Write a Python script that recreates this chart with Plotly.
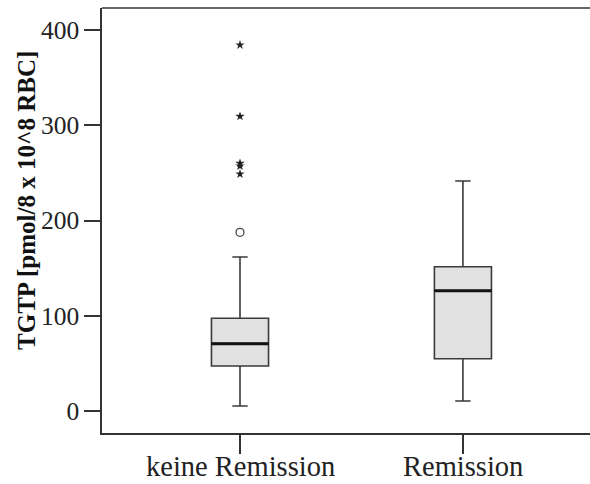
import plotly.graph_objects as go

# Groups and five-number summaries of TGTP
groups = ["keine Remission", "Remission"]
q1_vals = [47.2, 54.9]
median_vals = [70.7, 126.3]
q3_vals = [97.3, 151.5]
lower_whisker = [5.2, 10.5]
upper_whisker = [161.7, 241.5]

# Outliers of the "keine Remission" group
mild_outliers = [187.6]
extreme_outliers = [384.3, 309.4, 260.0, 257.2, 248.8]

y_ticks = [0, 100, 200, 300, 400]

FONT = "Liberation Serif"
AXIS_COLOR = "#333333"
TEXT_COLOR = "#222222"
BOX_W = 0.256

fig = go.Figure()

fig.add_trace(go.Box(
    x=groups, q1=q1_vals, median=median_vals, q3=q3_vals,
    lowerfence=lower_whisker, upperfence=upper_whisker,
    width=BOX_W, whiskerwidth=0.27, boxpoints=False,
    fillcolor="#e1e1e1", line=dict(color="#3a3a3a", width=1.6),
    hoverinfo="skip", showlegend=False,
))

# Heavier median bar drawn over each box
fig.add_trace(go.Box(
    x=groups, q1=median_vals, median=median_vals, q3=median_vals,
    lowerfence=median_vals, upperfence=median_vals,
    width=BOX_W, whiskerwidth=0, boxpoints=False,
    fillcolor="rgba(0,0,0,0)", line=dict(color="#111111", width=3),
    hoverinfo="skip", showlegend=False,
))

fig.add_trace(go.Scatter(
    x=[groups[0]] * len(mild_outliers), y=mild_outliers, mode="markers",
    marker=dict(symbol="circle-open", size=8, color="#444444", line=dict(width=1.3)),
    showlegend=False, hoverinfo="skip",
))
fig.add_trace(go.Scatter(
    x=[groups[0]] * len(extreme_outliers), y=extreme_outliers, mode="markers",
    marker=dict(symbol="star", size=7, color="#222222"),
    showlegend=False, hoverinfo="skip",
))

# Category labels sit close under the long tick marks
category_labels = [dict(
    text=g, xref="x", yref="paper", x=g, y=0,
    xanchor="center", yanchor="bottom", yshift=-51,
    showarrow=False, font=dict(family=FONT, size=28.5, color=TEXT_COLOR),
) for g in groups]

fig.update_layout(
    width=590, height=484,
    margin=dict(l=102, r=0, t=8, b=51),
    paper_bgcolor="white", plot_bgcolor="white",
    boxmode="overlay",
    font=dict(family=FONT, size=26, color=TEXT_COLOR),
    xaxis=dict(
        type="category", range=[-0.619, 1.57], domain=[0, 1],
        automargin=False, showticklabels=False,
        showline=True, linecolor=AXIS_COLOR, linewidth=1.5,
        ticks="outside", ticklen=19, tickwidth=1.5, tickcolor=AXIS_COLOR,
        showgrid=False, zeroline=False,
    ),
    yaxis=dict(
        range=[-23.1, 423.1], tickvals=y_ticks, automargin=False,
        showline=True, linecolor=AXIS_COLOR, linewidth=1.5,
        ticks="outside", ticklen=16, tickwidth=1.5, tickcolor=AXIS_COLOR,
        showgrid=False, zeroline=False,
        tickfont=dict(family=FONT, size=25.5, color=TEXT_COLOR),
    ),
    shapes=[dict(
        type="line", xref="paper", yref="paper",
        x0=0, x1=1.05, y0=1, y1=1,
        line=dict(color=AXIS_COLOR, width=1.5),
    )],
    annotations=category_labels + [dict(
        text="<b>TGTP [pmol/8 x 10^8 RBC]</b>",
        xref="paper", yref="paper", x=0, y=0.546,
        xanchor="center", yanchor="middle", xshift=-75,
        textangle=-90, showarrow=False,
        font=dict(family=FONT, size=25, color="#111111"),
    )],
)

fig.write_html("out.html")
